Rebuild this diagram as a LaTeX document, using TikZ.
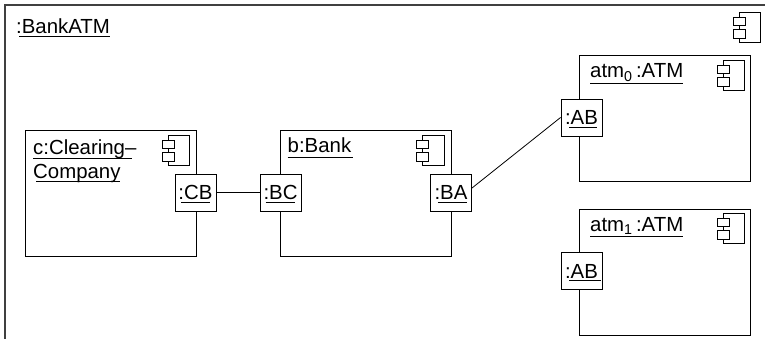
\documentclass[tikz,border=0pt]{standalone}
\usepackage{fontspec}
\setmainfont{Liberation Sans}
\usetikzlibrary{positioning}
% underlined text: drop below baseline, inset left, inset right, text
\newcommand{\und}[4]{\setbox0\hbox{#4}\rlap{\kern#2pt\rule[-#1pt]{\dimexpr\wd0-#2pt-#3pt\relax}{0.9pt}}\box0}

\begin{document}
\begin{tikzpicture}[
    x=1pt, y=-1pt,
    font=\fontsize{20.4}{23}\selectfont,
    part/.style={rectangle, draw, line width=0.9pt, minimum width=171pt,
                 minimum height=126pt, inner sep=0pt},
    port/.style={rectangle, draw, fill=white, line width=0.9pt, minimum width=41pt,
                 minimum height=37pt, inner sep=0pt, text height=15pt, text depth=0pt},
    title/.style={anchor=base west, inner sep=0pt},
    link/.style={draw, line width=0.8pt},
    iconbody/.style={draw, line width=0.8pt},
    iconpin/.style={draw, fill=white, line width=0.8pt},
    icon/.pic={
        \path[iconbody] (6,0) rectangle (27.5,30);
        \path[iconpin] (0,5) rectangle (12,13);
        \path[iconpin] (0,17) rectangle (12,26);
    }
]
\useasboundingbox (0,0) rectangle (765,339);

% Enclosing component, open at the right and at the bottom
\coordinate (framebl) at (5,339);
\coordinate (frametl) at (5,5);
\coordinate (frametr) at (765,5);
\draw[line width=1.2pt, black!75] (framebl) -- (frametl) -- (frametr);
\node[title] (banktitle) at (16,34) {\und{2.6}{3}{0}{:BankATM}};
\pic at (733,12.5) {icon};

% Parts
\node[part] (clearing) at (110.5,193) {};
\node[part, right=84pt of clearing] (bank) {};
\node[part] (atma) at (665,118) {};
\node[part, below=27.5pt of atma] (atmb) {};

% Part titles
\node[title] (clearingtitle) at (33,154.5) {\und{4}{0}{4}{c:Clearing–}};
\node[title] (companytitle) at (33,178.5) {\und{3.8}{3}{1}{Company}};
\node[title] (banktext) at (287.5,152.3) {\und{6}{0}{-1.5}{b:Bank}};
\node[title] (atmatitle) at (590,78) {\und{6}{0}{0}{atm\textsubscript{0}\,:ATM}};
\node[title] (atmbtitle) at (590,231.5) {\und{5.6}{0}{0}{atm\textsubscript{1}\,:ATM}};

% Icons
\pic at (162,135) {icon};
\pic at (416.5,135) {icon};
\pic at (717,60) {icon};
\pic at (717,213.5) {icon};

% Ports
\node[port] (cb) at (195.5,192.5) {\und{2.8}{2.7}{3}{:CB}};
\node[port] (bc) at (280.5,192.5) {\und{3}{2}{2.3}{:BC}};
\node[port] (ba) at (451,192.5) {\und{3}{3.3}{0}{:BA}};
\node[port] (aba) at (581.5,117.5) {\und{3}{4}{1}{:AB}};
\node[port] (abb) at (581.5,271) {\und{2.6}{4}{-3}{:AB}};

% Connectors
\draw[link] (cb.east) -- (bc.west);
\draw[link] (ba.12) -- (aba.west);

\end{tikzpicture}
\end{document}
